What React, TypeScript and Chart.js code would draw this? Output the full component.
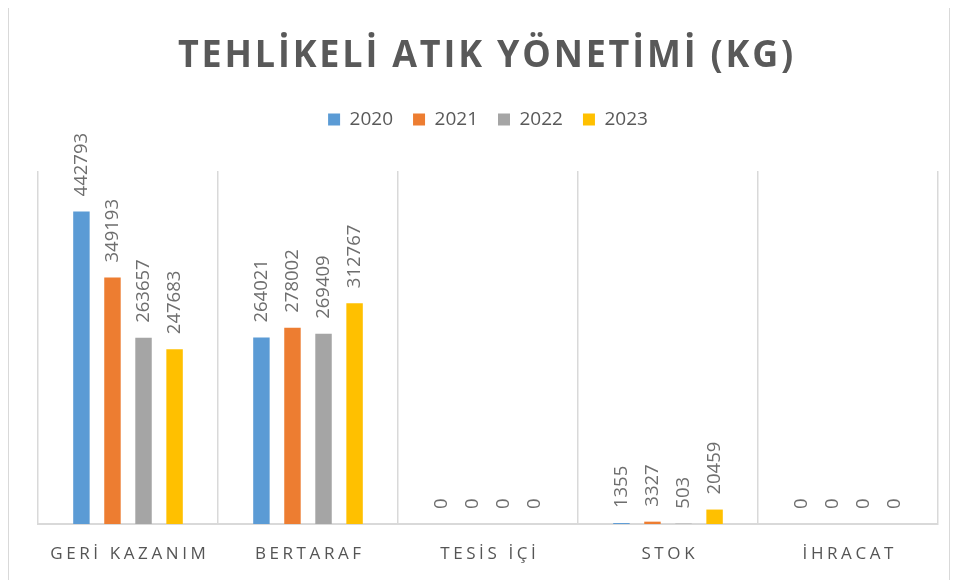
import React, { useEffect, useRef } from "react";
import { Chart, registerables } from "chart.js";

Chart.register(...registerables);

const categories = ["GERİ KAZANIM", "BERTARAF", "TESİS İÇİ", "STOK", "İHRACAT"];
const years = ["2020", "2021", "2022", "2023"];
const values2020 = [442793, 264021, 0, 1355, 0];
const values2021 = [349193, 278002, 0, 3327, 0];
const values2022 = [263657, 269409, 0, 503, 0];
const values2023 = [247683, 312767, 0, 20459, 0];
const seriesValues = [values2020, values2021, values2022, values2023];
const seriesColors = ["#5B9BD5", "#ED7D31", "#A5A5A5", "#FFC000"];
const titleText = "TEHLİKELİ ATIK YÖNETİMİ (KG)";
const yMin = 0;
const yMax = 500000;

const FONT = "'Open Sans', 'Noto Sans', sans-serif";
const LEGEND_GAP = 32;

const legendGapPlugin = {
  id: "legendGap",
  beforeLayout(chart: any) {
    const lg = chart.legend;
    if (lg && !lg._gapPatched) {
      const orig = lg.fit.bind(lg);
      lg.fit = () => {
        orig();
        lg.height += LEGEND_GAP;
      };
      lg._gapPatched = true;
    }
  },
};

const textPlugin = {
  id: "customText",
  afterDatasetsDraw(chart: any) {
    const ctx = chart.ctx;
    ctx.save();
    ctx.font = `18.5px ${FONT}`;
    ctx.fillStyle = "#6e6e6e";
    ctx.textAlign = "left";
    ctx.textBaseline = "middle";
    chart.data.datasets.forEach((ds: any, di: number) => {
      const meta = chart.getDatasetMeta(di);
      meta.data.forEach((el: any, i: number) => {
        const v = ds.data[i];
        ctx.save();
        ctx.translate(el.x, el.y - 15);
        ctx.rotate(-Math.PI / 2);
        ctx.fillText(String(v), 0, 0);
        ctx.restore();
      });
    });
    ctx.restore();
  },
  afterDraw(chart: any) {
    const ctx = chart.ctx;
    // Title
    ctx.save();
    ctx.font = `bold 38px ${FONT}`;
    (ctx as any).letterSpacing = "3px";
    const w = ctx.measureText(titleText).width;
    const sx = 618 / w;
    ctx.fillStyle = "#595959";
    ctx.textAlign = "center";
    ctx.textBaseline = "alphabetic";
    ctx.translate(478, 61);
    ctx.scale(sx, 1);
    ctx.fillText(titleText, 0, 0);
    ctx.restore();

    // Category labels
    const xs = chart.scales.x;
    ctx.save();
    ctx.font = `17px ${FONT}`;
    (ctx as any).letterSpacing = "3.6px";
    ctx.fillStyle = "#555555";
    ctx.textAlign = "center";
    ctx.textBaseline = "alphabetic";
    categories.forEach((c, i) => {
      ctx.fillText(c, xs.getPixelForValue(i) + 1.8, 553);
    });
    ctx.restore();
  },
};

export default function App() {
  const ref = useRef<HTMLCanvasElement | null>(null);
  useEffect(() => {
    if (!ref.current) return;
    const chart = new Chart(ref.current, {
      type: "bar",
      data: {
        labels: categories,
        datasets: years.map((y, i) => ({
          label: y,
          data: seriesValues[i],
          backgroundColor: seriesColors[i],
          borderWidth: 0,
          categoryPercentage: 0.69,
          barPercentage: 0.53,
        })),
      },
      options: {
        responsive: true,
        maintainAspectRatio: false,
        animation: false,
        layout: { padding: { left: 29, right: 11, top: 84, bottom: 0 } },
        plugins: {
          title: { display: false },
          tooltip: { enabled: false },
          legend: {
            position: "top",
            labels: {
              boxWidth: 12,
              boxHeight: 12,
              padding: 20,
              color: "#595959",
              font: { size: 19, family: FONT },
            },
          },
        },
        scales: {
          x: {
            grid: { color: "#d9d9d9", lineWidth: 1.5, drawTicks: false, offset: true },
            border: { color: "#d9d9d9", width: 2 },
            ticks: { display: false },
            afterFit: (s: any) => {
              s.height = 62;
            },
          },
          y: { display: false, min: yMin, max: yMax },
        },
      },
      plugins: [legendGapPlugin, textPlugin],
    });
    return () => chart.destroy();
  }, []);
  return (
    <div
      style={{
        width: 940,
        height: 580,
        border: "1px solid #d9d9d9",
        marginTop: -3,
        position: "relative",
        background: "#fff",
      }}
    >
      <canvas ref={ref} />
    </div>
  );
}
